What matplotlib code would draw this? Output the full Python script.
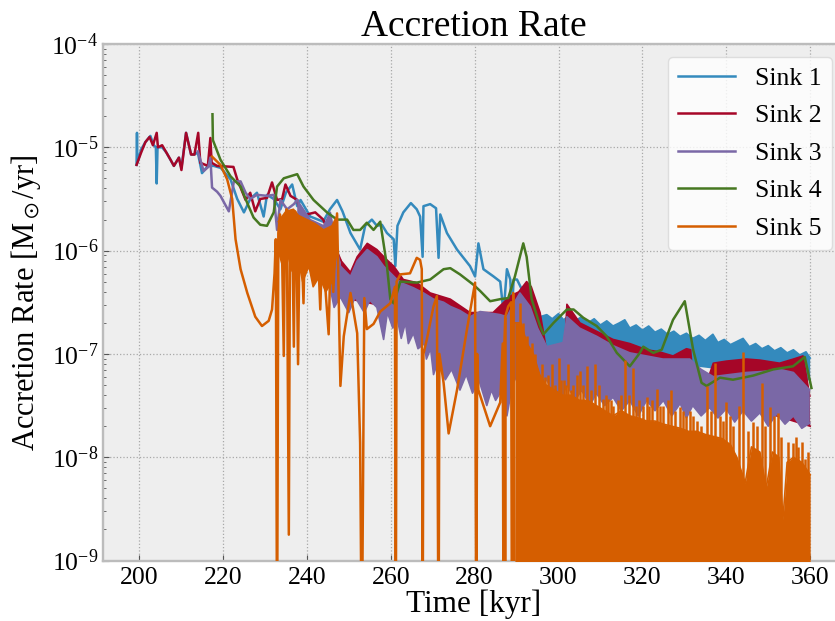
import numpy as np
import matplotlib
matplotlib.use("Agg")
import matplotlib.pyplot as plt
from matplotlib.ticker import LogLocator, NullFormatter

# ----- Style -----
plt.rcParams["font.family"] = ["Liberation Serif", "DejaVu Serif"]
plt.rcParams["mathtext.fontset"] = "stix"

colors = ["#348ABD", "#A60628", "#7A68A6", "#467821", "#D55E00"]
labels = ["Sink 1", "Sink 2", "Sink 3", "Sink 4", "Sink 5"]
y_ticks = [1e-9, 1e-8, 1e-7, 1e-6, 1e-5, 1e-4]
x_ticks = [200, 220, 240, 260, 280, 300, 320, 340, 360]

# ----- Data (time in kyr, log10 of accretion rate in Msun/yr) -----
# Sink 1: single line, then a noisy band (upper / lower edge)
s1_t = [199.4, 199.5, 199.6, 200.5, 201.5, 202.7, 203.5, 204.0, 204.2, 204.4, 205.5, 206.5,
        208.3, 209.5, 210.1, 211.2, 212.4, 213.2, 214.0, 215.0, 216.4, 217.8, 219.5, 221.8,
        223.4, 225.0, 226.5, 228.1, 229.7, 230.5, 232.1, 233.7, 235.0, 236.5, 237.7, 238.5,
        240.8, 243.9, 245.5, 247.2, 248.5, 250.4, 252.7, 253.9, 255.5, 256.7, 257.9, 259.1,
        260.7, 261.1, 261.6, 263.0, 264.8, 266.2, 267.0, 267.6, 267.8, 269.4, 270.8, 271.4,
        271.8, 273.4, 275.8, 278.9, 280.1, 280.9, 282.1, 284.5, 286.1, 286.9, 287.7, 288.5,
        288.9, 289.3, 290.1, 292.4, 295.6]
s1_log = [-5.17, -4.86, -5.15, -5.02, -4.95, -4.89, -4.98, -5.00, -5.35, -5.00, -5.00, -5.05,
          -5.18, -5.10, -5.20, -4.86, -5.07, -5.07, -5.05, -5.25, -5.18, -5.18, -5.20, -5.31,
          -5.50, -5.63, -5.50, -5.44, -5.67, -5.46, -5.50, -5.60, -5.44, -5.36, -5.57, -5.51,
          -5.67, -5.72, -5.60, -5.51, -5.62, -5.83, -5.99, -5.76, -5.70, -5.76, -5.75, -5.83,
          -5.89, -6.15, -5.76, -5.63, -5.54, -5.60, -5.67, -6.06, -5.57, -5.55, -5.59, -6.07,
          -5.65, -5.83, -5.99, -6.15, -6.25, -5.93, -6.18, -6.25, -6.30, -6.60, -6.18, -6.28,
          -6.60, -6.28, -6.28, -6.47, -6.64]
s1_hi_t = [295.6, 297.2, 298.5, 300.0, 301.2, 302.5, 304.0, 305.5, 307.0, 308.5, 310.0, 311.5,
           313.0, 314.5, 315.8, 317.0, 318.5, 320.0, 321.5, 323.0, 324.5, 326.0, 327.5, 329.0,
           330.5, 332.0, 333.5, 335.0, 336.8, 338.0, 339.5, 341.0, 342.5, 344.0, 345.5, 347.0,
           348.5, 350.0, 351.5, 353.0, 354.5, 356.0, 357.5, 359.0, 360.0]
s1_hi = [-6.64, -6.62, -6.66, -6.61, -6.67, -6.63, -6.68, -6.64, -6.70, -6.66, -6.72, -6.68,
         -6.73, -6.70, -6.67, -6.75, -6.72, -6.77, -6.73, -6.79, -6.76, -6.81, -6.78, -6.83,
         -6.80, -6.85, -6.82, -6.87, -6.81, -6.89, -6.86, -6.91, -6.88, -6.85, -6.93, -6.90,
         -6.95, -6.92, -6.97, -6.94, -6.99, -6.96, -7.01, -6.98, -7.04]
s1_lo_t = [295.6, 297.2, 300.0, 310.0, 320.0, 330.0, 340.0, 350.0, 360.0]
s1_lo = [-6.90, -7.02, -7.02, -7.00, -7.05, -7.10, -7.15, -7.20, -7.25]

# Sink 2
s2_t = [199.4, 200.5, 201.5, 202.5, 203.3, 204.2, 204.5, 205.5, 206.5, 207.5, 208.3, 209.5,
        210.1, 211.2, 212.4, 213.2, 214.1, 214.6, 216.4, 217.0, 217.3, 218.6, 222.5, 223.4,
        225.4, 226.5, 227.7, 228.9, 230.5, 231.7, 232.9, 234.1, 234.9, 236.1, 237.7, 238.9,
        240.0, 242.0, 243.9, 245.6, 248.0]
s2_log = [-5.17, -5.05, -4.95, -4.90, -4.98, -4.86, -5.00, -4.98, -5.05, -5.12, -5.18, -5.10,
          -5.22, -4.86, -5.07, -5.07, -4.86, -5.15, -5.18, -4.91, -5.15, -5.18, -5.19, -5.31,
          -5.51, -5.44, -5.62, -5.50, -5.49, -5.34, -5.51, -5.50, -5.36, -5.47, -5.51, -5.70,
          -5.65, -5.63, -5.70, -5.86, -6.09]
s2_hi_t = [248.0, 250.4, 252.0, 254.4, 256.7, 259.1, 260.7, 263.0, 266.2, 269.4, 274.2,
           278.9, 284.4, 288.5, 290.5, 292.4, 293.5, 295.6, 297.2, 300.4, 301.5, 302.0,
           305.1, 309.0, 313.0, 317.0, 321.0, 324.0, 327.3, 330.5, 331.5, 332.1, 335.3,
           336.9, 340.0, 344.8, 348.0, 352.7, 356.0, 358.3, 359.9]
s2_hi = [-6.09, -6.21, -6.06, -5.93, -5.99, -6.09, -6.15, -6.28, -6.31, -6.41, -6.47,
         -6.60, -6.60, -6.44, -6.40, -6.30, -6.35, -6.60, -6.98, -6.98, -6.95, -6.52,
         -6.70, -6.78, -6.86, -6.90, -6.96, -6.98, -7.02, -6.95, -6.96, -7.28, -7.28,
         -7.09, -7.07, -7.05, -7.06, -7.09, -7.05, -7.02, -7.41]
s2_lo_t = [248.0, 260.0, 280.0, 300.0, 320.0, 340.0, 360.0]
s2_lo = [-6.45, -6.55, -6.90, -7.20, -7.30, -7.45, -7.70]

# Sink 3
s3_t = [214.0, 215.4, 216.5, 217.0, 217.4, 218.6, 219.4, 221.4, 222.6, 224.2, 225.4, 226.5,
        228.1, 230.5, 232.1, 232.9, 233.7, 235.3, 236.9, 237.7]
s3_log = [-5.04, -5.23, -5.19, -5.10, -5.39, -5.43, -5.47, -5.62, -5.33, -5.33, -5.44, -5.50,
          -5.46, -5.47, -5.46, -5.80, -5.51, -5.60, -5.55, -5.51]
s3_hi_t = [237.7, 240.8, 244.0, 245.6, 248.0, 250.4, 252.0, 254.4, 256.7, 258.3, 261.5,
           263.0, 265.4, 267.8, 270.2, 272.6, 274.2, 276.5, 278.9, 281.3, 283.0, 286.1,
           287.7, 289.5, 290.8, 293.2, 295.0, 297.2, 301.1, 302.0, 305.0, 309.1, 313.0,
           317.0, 321.0, 324.9, 328.0, 331.3, 334.0, 336.9, 340.8, 344.8, 348.8, 352.7,
           356.0, 359.9]
s3_hi = [-5.51, -5.70, -5.76, -5.63, -6.15, -6.25, -6.10, -5.99, -6.06, -6.15, -6.28,
         -6.32, -6.36, -6.41, -6.47, -6.50, -6.54, -6.58, -6.64, -6.59, -6.60, -6.62,
         -6.64, -6.50, -6.41, -6.54, -6.75, -6.93, -6.89, -6.64, -6.75, -6.83, -6.92,
         -6.99, -7.02, -7.05, -7.05, -7.05, -7.15, -7.22, -7.20, -7.18, -7.17, -7.15,
         -7.18, -7.35]
s3_lo_t = [237.7, 239.5, 241.0, 243.0, 244.5, 246.5, 248.0, 250.0, 251.5, 253.7, 255.0, 256.7,
           258.3, 259.2, 260.5, 261.5, 262.5, 263.5, 264.2, 265.4, 266.5, 268.0, 268.5, 269.5,
           270.2, 271.5, 273.0, 274.5, 276.5, 278.0, 279.5, 281.0, 282.9, 284.0, 285.0, 286.5,
           287.7, 289.0, 290.8, 292.0, 294.0, 296.0, 297.2, 299.0, 300.5, 302.0, 304.0, 305.5,
           307.5, 309.0, 311.0, 313.0, 315.0, 317.0, 319.0, 321.0, 323.0, 325.0, 327.0, 329.0,
           330.5, 332.0, 334.0, 336.0, 338.0, 340.0, 342.0, 344.0, 346.0, 348.0, 350.0, 352.0,
           354.0, 356.0, 358.0, 359.9]
s3_lo = [-5.80, -6.05, -5.95, -6.25, -6.15, -6.55, -6.45, -6.60, -6.45, -6.60, -6.48, -6.55,
         -6.86, -6.60, -6.75, -6.65, -6.85, -6.70, -6.90, -6.80, -6.95, -6.90, -7.05, -6.95,
         -7.20, -7.05, -7.25, -7.15, -7.35, -7.20, -7.38, -7.25, -7.50, -7.35, -7.45, -7.35,
         -7.60, -7.30, -7.15, -7.40, -7.08, -7.30, -7.25, -7.40, -7.45, -7.30, -7.45, -7.35,
         -7.50, -7.38, -7.50, -7.42, -7.55, -7.45, -7.60, -7.45, -7.55, -7.45, -7.60, -7.48,
         -7.62, -7.50, -7.60, -7.52, -7.62, -7.53, -7.66, -7.55, -7.65, -7.57, -7.70, -7.58,
         -7.68, -7.60, -7.72, -7.67]

# Sink 4
s4_t = [217.5, 217.6, 219.4, 221.8, 224.2, 225.8, 227.3, 228.9, 230.5, 232.1, 232.9, 234.5,
        237.7, 239.2, 241.6, 244.8, 247.2, 249.6, 251.1, 252.7, 254.3, 255.9, 257.5, 259.1,
        259.9, 260.7, 262.3, 266.2, 269.4, 272.6, 274.2, 276.5, 279.7, 281.3, 283.7, 286.1,
        288.0, 289.6, 291.6, 292.4, 293.6, 295.6, 296.4, 298.8, 302.0, 303.6, 305.9, 309.1,
        311.5, 313.9, 317.0, 319.4, 320.2, 322.6, 324.6, 327.3, 330.1, 332.1, 334.1, 335.3,
        338.5, 341.6, 346.4, 351.2, 355.9, 358.7, 360.3]
s4_log = [-4.68, -4.93, -5.12, -5.28, -5.38, -5.54, -5.68, -5.75, -5.76, -5.63, -5.38, -5.30,
          -5.26, -5.38, -5.51, -5.63, -5.70, -5.70, -5.80, -5.80, -5.73, -5.80, -5.72, -6.15,
          -6.47, -6.51, -6.30, -6.31, -6.28, -6.18, -6.17, -6.23, -6.33, -6.39, -6.49, -6.47,
          -6.46, -6.25, -5.93, -6.06, -6.47, -6.73, -6.81, -6.70, -6.57, -6.57, -6.65, -6.73,
          -6.83, -6.99, -7.12, -6.99, -6.93, -6.99, -6.96, -6.67, -6.49, -6.96, -7.28, -7.31,
          -7.23, -7.25, -7.21, -7.15, -7.12, -7.03, -7.33]

# Sink 5: spiky line, a dense block near 233-247 kyr, then a solid region reaching the floor
s5_t = [217.4, 219.4, 221.0, 222.2, 223.0, 224.2, 225.8, 227.7, 229.3, 230.9, 231.7, 232.3,
        232.6, 232.9, 233.2, 233.6, 234.0, 234.5, 234.8, 235.2, 235.7, 236.0, 236.5, 236.9,
        237.2, 237.5, 237.9, 238.3, 238.7, 239.2, 239.6, 240.0, 240.5, 241.0, 241.5, 242.0,
        242.5, 243.2, 243.7, 244.3, 245.2, 245.7, 246.3, 247.2, 248.0, 248.8, 250.4, 252.0,
        252.7, 253.1, 253.7, 254.3, 255.9, 257.5, 259.9, 261.0, 261.2, 261.4, 262.3, 264.6,
        266.2, 267.0, 267.4, 267.6, 267.8, 268.6, 270.2, 271.0, 271.4, 271.6, 272.6, 273.8,
        275.8, 278.1, 280.1, 280.4, 280.6, 280.9, 283.7, 286.1, 286.7, 286.9, 287.1, 287.3,
        288.0, 288.7, 288.9, 289.2, 289.6]
s5_log = [-5.09, -5.17, -5.31, -5.50, -5.89, -6.18, -6.41, -6.64, -6.73, -6.68, -6.57, -6.22,
          -5.89, -10.0, -5.83, -5.65, -5.80, -7.02, -5.70, -5.60, -8.75, -5.65, -5.75, -6.93,
          -5.62, -5.80, -7.10, -5.75, -5.90, -6.51, -5.75, -6.00, -5.78, -6.20, -5.82, -6.10,
          -5.85, -6.57, -5.90, -6.30, -6.81, -5.95, -6.40, -5.64, -7.31, -6.83, -6.41, -6.80,
          -7.86, -10.0, -6.46, -6.76, -6.71, -6.59, -6.51, -6.35, -10.0, -6.30, -6.23, -6.22,
          -6.07, -6.09, -6.18, -10.0, -7.00, -6.86, -6.54, -6.44, -10.0, -7.00, -7.28, -7.77,
          -7.35, -6.78, -6.31, -10.0, -7.00, -7.35, -7.70, -7.47, -6.90, -10.0, -6.90, -6.64,
          -6.54, -6.50, -10.0, -6.41, -10.0]
s5_block_hi_t = [233.2, 235.0, 236.8, 238.0, 240.0, 242.0, 244.0, 246.0, 247.2]
s5_block_hi = [-5.72, -5.62, -5.60, -5.66, -5.70, -5.74, -5.80, -5.76, -5.66]
s5_block_lo_t = [233.2, 234.2, 235.5, 236.5, 238.0, 239.0, 240.5, 241.5, 243.0, 244.5, 246.0, 247.2]
s5_block_lo = [-6.00, -6.15, -6.05, -6.20, -6.10, -6.30, -6.15, -6.35, -6.25, -6.40, -6.30, -6.00]
s5_base_t = [289.6, 291.0, 292.5, 294.0, 295.5, 297.0, 299.0, 301.0, 303.0, 305.0, 307.0,
             309.0, 311.0, 313.0, 315.0, 317.0, 319.0, 321.0, 323.0, 325.0, 327.0, 329.0,
             331.0, 333.0, 335.0, 337.0, 339.0, 341.0, 342.5, 344.5, 346.0, 348.0, 349.5,
             351.0, 352.5, 353.5, 354.5, 356.0, 358.0, 360.0]
s5_base_log = [-6.70, -6.70, -6.90, -7.00, -7.20, -7.30, -7.35, -7.40, -7.40, -7.45, -7.45,
               -7.50, -7.55, -7.60, -7.55, -7.60, -7.62, -7.65, -7.65, -7.68, -7.70, -7.72,
               -7.75, -7.75, -7.78, -7.80, -7.82, -7.88, -8.00, -8.25, -7.90, -7.95, -8.30,
               -7.95, -8.00, -8.60, -8.05, -8.00, -8.05, -8.17]
s5_spike_t = [287.3, 289.2, 290.8, 291.6, 292.4, 293.6, 294.4, 295.2, 296.0, 296.8, 297.6,
              298.4, 299.2, 300.0, 300.6, 301.2, 301.8, 302.3, 303.0, 303.5, 304.3, 305.1,
              305.9, 306.7, 307.7, 308.7, 309.7, 310.7, 311.3, 311.9, 312.5, 313.1, 314.3,
              315.0, 315.8, 316.8, 317.8, 318.5, 319.2, 320.2, 321.0, 321.6, 322.2, 323.4,
              324.2, 325.0, 326.0, 326.9, 327.8, 328.9, 329.7, 330.5, 331.3, 332.1, 333.0,
              334.0, 335.3, 336.3, 337.3, 338.5, 339.3, 340.0, 340.8, 341.6, 343.0, 344.0,
              345.2, 346.4, 347.4, 348.4, 349.2, 350.4, 351.3, 352.3, 353.0, 354.6, 355.9,
              356.6, 357.2, 358.0, 358.7, 359.5]
s5_spike_top = [-6.64, -6.41, -6.51, -6.70, -6.83, -6.89, -7.00, -7.25, -7.10, -7.22, -7.20,
                -7.10, -7.30, -7.04, -7.25, -7.25, -7.30, -7.10, -7.35, -7.30, -7.20, -7.17,
                -7.30, -7.12, -7.35, -7.10, -7.30, -7.44, -7.40, -7.44, -7.45, -7.50, -7.45,
                -7.40, -7.06, -7.40, -7.14, -7.50, -7.45, -7.50, -7.42, -7.50, -7.45, -7.34,
                -7.50, -7.50, -7.45, -7.35, -7.55, -7.51, -7.55, -7.60, -7.55, -7.60, -7.65,
                -7.70, -7.31, -7.55, -7.09, -7.60, -7.65, -7.47, -7.60, -7.70, -7.50, -6.98,
                -7.75, -7.66, -7.70, -7.28, -7.70, -7.51, -7.60, -7.57, -7.80, -7.85, -7.86,
                -7.80, -7.90, -7.85, -8.02, -7.95]
floor_log = -10.0


def rate(lg):
    return 10.0 ** np.asarray(lg)


def band(ax, t_hi, hi, t_lo, lo, color, z):
    # closed outline: along the upper edge, back along the lower edge
    xs = list(t_hi) + list(t_lo)[::-1]
    ys = list(hi) + list(lo)[::-1]
    ax.fill(xs, rate(ys), color=color, lw=0, zorder=z)
    ax.plot(t_hi, rate(hi), color=color, lw=1.2, zorder=z)
    ax.plot(t_lo, rate(lo), color=color, lw=1.2, zorder=z)


# ----- Plot -----
fig = plt.figure(figsize=(8.35, 6.21), dpi=100)
ax = fig.add_axes([103 / 835, 60.5 / 621, 742 / 835, 516.5 / 621])
ax.set_facecolor("#eeeeee")

lw = 1.8
# Sink 1
ax.plot(s1_t, rate(s1_log), color=colors[0], lw=lw, label=labels[0], zorder=2)
band(ax, s1_hi_t, s1_hi, s1_lo_t, s1_lo, colors[0], 2)

# Sink 2
ax.plot(s2_t, rate(s2_log), color=colors[1], lw=lw, label=labels[1], zorder=3)
band(ax, s2_hi_t, s2_hi, s2_lo_t, s2_lo, colors[1], 3)

# Sink 3
ax.plot(s3_t, rate(s3_log), color=colors[2], lw=lw, label=labels[2], zorder=4)
band(ax, s3_hi_t, s3_hi, s3_lo_t, s3_lo, colors[2], 4)

# Sink 4
ax.plot(s4_t, rate(s4_log), color=colors[3], lw=lw, label=labels[3], zorder=5)

# Sink 5
ax.plot(s5_t, rate(s5_log), color=colors[4], lw=lw, label=labels[4], zorder=6)
band(ax, s5_block_hi_t, s5_block_hi, s5_block_lo_t, s5_block_lo, colors[4], 6)
ax.fill_between(s5_base_t, rate(floor_log), rate(s5_base_log), color=colors[4], lw=0, zorder=6)
ax.plot(s5_base_t, rate(s5_base_log), color=colors[4], lw=1.2, zorder=6)
ax.vlines(s5_spike_t, rate(floor_log), rate(s5_spike_top), color=colors[4], lw=1.8, zorder=6)

ax.set_yscale("log")
ax.set_ylim(1e-9, 1e-4)
ax.set_xlim(191.4, 368.3)
ax.set_xticks(x_ticks)
ax.set_yticks(y_ticks)
ax.yaxis.set_minor_locator(LogLocator(base=10, subs=np.arange(2, 10), numticks=20))
ax.yaxis.set_minor_formatter(NullFormatter())

ax.grid(True, which="major", linestyle=":", color="#a8a8a8", lw=0.9)
ax.set_axisbelow(True)
for s in ax.spines.values():
    s.set_color("#bcbcbc")
    s.set_linewidth(1.7)

ax.tick_params(which="major", direction="in", length=4, width=0.8, labelsize=18.5, color="#555555")
ax.tick_params(which="minor", direction="in", length=2, width=0.6, color="#555555")
ax.tick_params(axis="x", pad=5)

ax.set_title("Accretion Rate", fontsize=27)
ax.set_xlabel("Time [kyr]", fontsize=22.5, labelpad=0)
ax.set_ylabel(r"Accretion Rate [M$_\odot$/yr]", fontsize=22, labelpad=6)

leg = ax.legend(loc="upper right", fontsize=18.5, framealpha=0.8, fancybox=True,
                edgecolor="#d8d8d8", handlelength=2.2, handletextpad=0.8, labelspacing=0.56)
leg.get_frame().set_facecolor("white")

fig.savefig("out.png", dpi=100)
